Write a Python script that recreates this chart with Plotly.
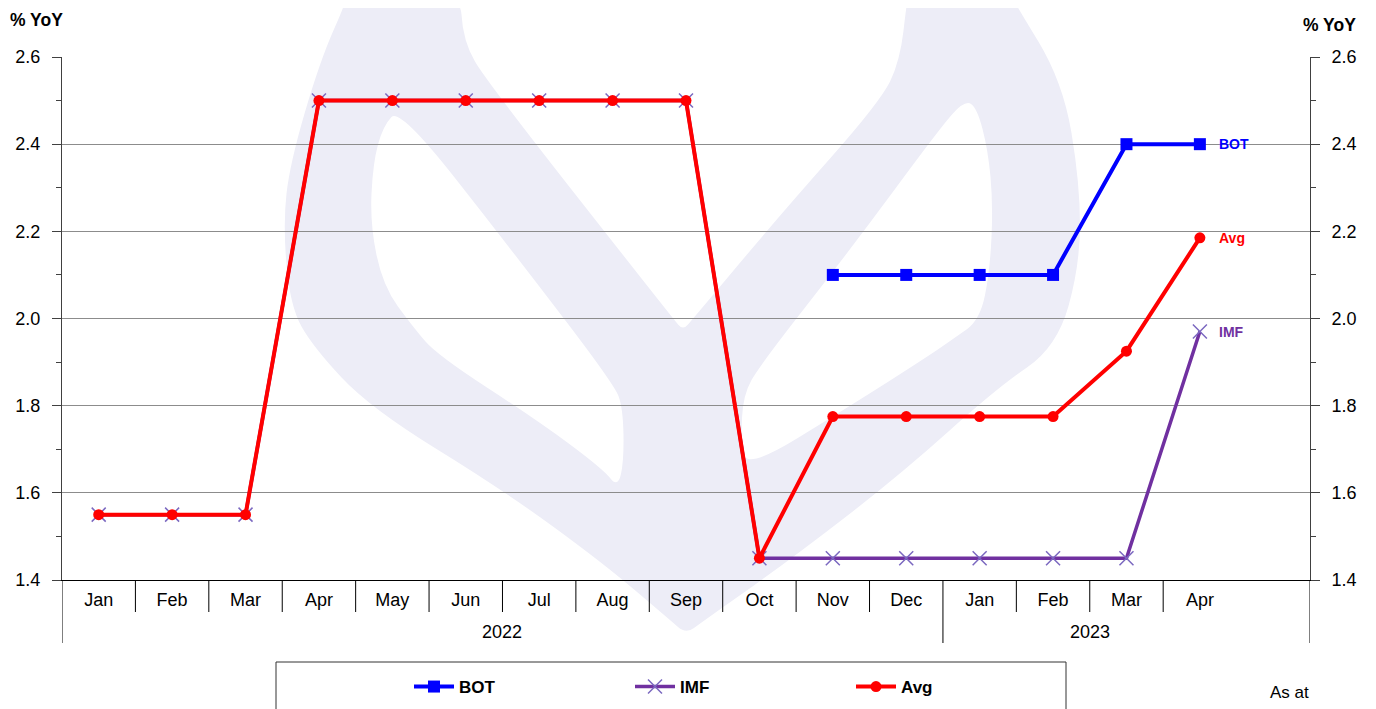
import plotly.graph_objects as go

months = ["Jan", "Feb", "Mar", "Apr", "May", "Jun", "Jul", "Aug", "Sep", "Oct", "Nov", "Dec",
          "Jan", "Feb", "Mar", "Apr"]
years = ["2022", "2023"]
year_len = [12, 4]
bot = [None, None, None, None, None, None, None, None, None, None,
       2.1, 2.1, 2.1, 2.1, 2.4, 2.4]
imf = [1.55, 1.55, 1.55, 2.5, 2.5, 2.5, 2.5, 2.5, 2.5, 1.45,
       1.45, 1.45, 1.45, 1.45, 1.45, 1.97]
avg = [1.55, 1.55, 1.55, 2.5, 2.5, 2.5, 2.5, 2.5, 2.5, 1.45,
       1.775, 1.775, 1.775, 1.775, 1.925, 2.185]

# page has an 8px body margin, so the figure is a bit smaller than the window
OFF = 8
WIN_W, WIN_H = 1376, 709
PX0, PX1, PY0, PY1 = 62, 1310, 57, 580   # plot area in window pixels
PW, PH = PX1 - PX0, PY1 - PY0
FONT = "Liberation Sans, Arial, sans-serif"
x = list(range(len(months)))
nslots = len(months) + 1


def pp(px, py):
    # window pixel -> paper coords
    return (px - PX0) / PW, (PY1 - py) / PH


def smooth_path(pts):
    q = [pp(*p) for p in pts]
    n = len(q)
    mid = lambda a, b: ((a[0] + b[0]) / 2, (a[1] + b[1]) / 2)
    s = "M %.4f,%.4f " % mid(q[-1], q[0])
    for i in range(n):
        e = mid(q[i], q[(i + 1) % n])
        s += "Q %.4f,%.4f %.4f,%.4f " % (q[i][0], q[i][1], e[0], e[1])
    return s + "Z"


# watermark logo in the background
outer = [(347, -12), (347, 0), (320, 61), (290, 163), (283, 224), (290, 306), (313, 347),
         (370, 408), (503, 490), (603, 563), (670, 620), (686, 634), (702, 622),
         (790, 560), (900, 475), (997, 388), (1057, 347), (1080, 265), (1080, 184),
         (1063, 82), (1013, 0), (1008, -12), (910, -12), (907, 0), (900, 61), (880, 102),
         (780, 215), (692, 320), (683, 330), (674, 320), (487, 82), (463, 41), (460, -12)]
leaf_l = [(400, 108), (383, 126), (373, 163), (370, 224), (383, 286), (413, 327), (437, 355),
          (537, 420), (603, 469), (618, 488), (624, 460), (623, 408), (614, 384), (510, 248)]
leaf_r = [(965, 100), (977, 108), (988, 150), (993, 204), (990, 270), (980, 320), (953, 339),
          (930, 355), (847, 408), (747, 469), (741, 440), (743, 395), (760, 365), (850, 250),
          (940, 128)]

shapes = [dict(type="path", xref="paper", yref="paper", path=smooth_path(outer),
               fillcolor="#EDEDF7", line=dict(width=0), layer="below")]
for lf in (leaf_l, leaf_r):
    shapes.append(dict(type="path", xref="paper", yref="paper", path=smooth_path(lf),
                       fillcolor="white", line=dict(width=0), layer="below"))

# category dividers
year_edges = [-0.5]
for n in year_len:
    year_edges.append(year_edges[-1] + n)
year_edges[-1] = nslots - 0.5
y_short = pp(0, 612)[1]
y_long = pp(0, 643)[1]
for i in range(len(months)):
    b = i - 0.5
    if b in year_edges:
        continue
    shapes.append(dict(type="line", xref="x", yref="paper", x0=b, x1=b, y0=0, y1=y_short,
                       line=dict(color="black", width=1)))
for b in year_edges:
    shapes.append(dict(type="line", xref="x", yref="paper", x0=b, x1=b, y0=0, y1=y_long,
                       line=dict(color="black", width=1)))

# legend box
lx0, ly0 = pp(276, 662)
lx1, ly1 = pp(1066, 740)
shapes.append(dict(type="rect", xref="paper", yref="paper", x0=lx0, x1=lx1, y0=ly0, y1=ly1,
                   line=dict(color="#333333", width=1), fillcolor="white"))

fig = go.Figure()
fig.add_trace(go.Scatter(x=x, y=bot, name="BOT", mode="lines+markers",
                         line=dict(color="#0000FF", width=4),
                         marker=dict(symbol="square", size=12, color="#0000FF")))
fig.add_trace(go.Scatter(x=x, y=imf, name="IMF", mode="lines+markers",
                         line=dict(color="#7030A0", width=3.5),
                         marker=dict(symbol="x-thin-open", size=14, color="#7B68C0",
                                     line=dict(width=1.5, color="#7B68C0"))))
fig.add_trace(go.Scatter(x=x, y=avg, name="Avg", mode="lines+markers",
                         line=dict(color="#FF0000", width=4),
                         marker=dict(symbol="circle", size=11, color="#FF0000")))
# invisible trace so the right axis gets drawn
fig.add_trace(go.Scatter(x=x, y=avg, yaxis="y2", mode="lines", line=dict(width=0),
                         showlegend=False, hoverinfo="skip", opacity=0))

annotations = []
last = len(months) - 1
for name, vals, col in (("BOT", bot, "#0000FF"), ("Avg", avg, "#FF0000"), ("IMF", imf, "#7030A0")):
    annotations.append(dict(x=last, y=vals[last], xref="x", yref="y", text="<b>%s</b>" % name,
                            showarrow=False, xanchor="left", xshift=17,
                            font=dict(family=FONT, size=14, color=col)))

start = 0
for yr, n in zip(years, year_len):
    annotations.append(dict(x=start + (n - 1) / 2, y=pp(0, 632)[1], xref="x", yref="paper",
                            text=yr, showarrow=False, yanchor="middle",
                            font=dict(family=FONT, size=18, color="black")))
    start += n

for tx, ty in ((8, 20), (1301, 25)):
    ax, ay = pp(tx, ty)
    annotations.append(dict(x=ax, y=ay, xref="paper", yref="paper", text="<b>% YoY</b>",
                            showarrow=False, xanchor="left", yanchor="middle",
                            font=dict(family=FONT, size=17.5, color="black")))
ax, ay = pp(1311, 692)
annotations.append(dict(x=ax, y=ay, xref="paper", yref="paper", text="As at",
                        showarrow=False, xanchor="right", yanchor="middle",
                        font=dict(family=FONT, size=17, color="black")))

yax = dict(range=[1.4, 2.6], dtick=0.2, tick0=1.4, tickformat=".1f",
           showline=True, linecolor="#404040", linewidth=1,
           ticks="outside", ticklen=9, tickcolor="#404040", ticklabelstandoff=8,
           minor=dict(dtick=0.1, ticks="outside", ticklen=5, tickcolor="#404040", showgrid=False),
           zeroline=False, tickfont=dict(family=FONT, size=18, color="black"), fixedrange=True)

lgx, lgy = pp(409, 687)
fig.update_layout(
    width=WIN_W - OFF, height=WIN_H - OFF,
    margin=dict(l=PX0 - OFF, r=WIN_W - PX1, t=PY0 - OFF, b=WIN_H - PY1, pad=0, autoexpand=False),
    paper_bgcolor="white", plot_bgcolor="rgba(0,0,0,0)",
    shapes=shapes, annotations=annotations,
    xaxis=dict(range=[-0.5, nslots - 0.5], tickvals=x, ticktext=months,
               showgrid=False, zeroline=False, showline=True, linecolor="black", linewidth=1,
               ticks="", ticklabelstandoff=3,
               tickfont=dict(family=FONT, size=18, color="black")),
    yaxis=dict(yax, showgrid=True, gridcolor="#8C8C8C", gridwidth=1),
    yaxis2=dict(yax, overlaying="y", side="right", showgrid=False),
    showlegend=True,
    legend=dict(orientation="h", x=lgx, y=lgy, xanchor="left", yanchor="middle",
                bgcolor="rgba(0,0,0,0)", borderwidth=0,
                entrywidth=166, entrywidthmode="pixels", itemwidth=40,
                font=dict(family=FONT, size=17, color="black", weight="bold")),
    hovermode=False,
)

fig.write_html("out.html")
